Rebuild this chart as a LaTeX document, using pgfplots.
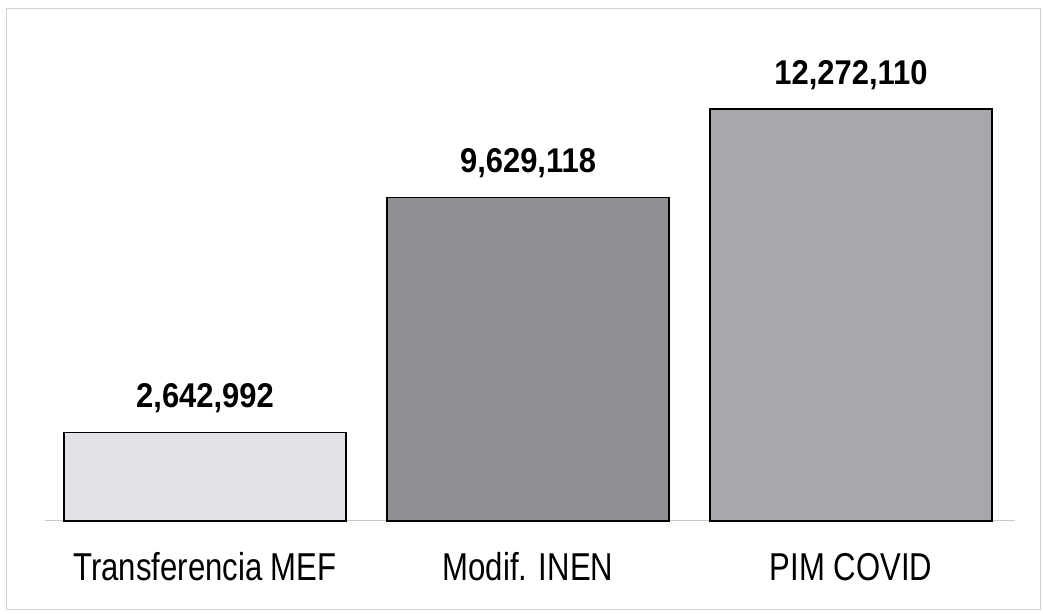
\documentclass[border=0pt]{standalone}
\usepackage{pgfplots}
\pgfplotsset{compat=1.18}
\usepackage{fontspec}
\setmainfont{Liberation Sans}
\newfontfamily\catfam[FakeStretch=0.80]{Liberation Sans}
\newfontfamily\valfam[FakeStretch=0.90]{Liberation Sans}
\definecolor{barA}{HTML}{E1E2E8}
\definecolor{barB}{HTML}{8E8F93}
\definecolor{barC}{HTML}{A7A8AD}
\definecolor{frameC}{HTML}{D0D0D0}
\definecolor{baseC}{HTML}{C8C8C8}
\pgfplotstableread{
x y lab
0 2642992 {2,642,992}
}\tabA
\pgfplotstableread{
x y lab
1 9629118 {9,629,118}
}\tabB
\pgfplotstableread{
x y lab
2 12272110 {12,272,110}
}\tabC
\begin{document}
\begin{tikzpicture}[x=1bp,y=1bp]
\begin{axis}[
  name=ax,
  at={(0,0)}, anchor=south west,
  scale only axis,
  width=970bp, height=482bp,
  xmin=-0.4954, xmax=2.5077,
  ymin=0, ymax=14358000,
  axis y line=none,
  axis x line=bottom,
  x axis line style={-, draw=baseC, line width=1bp},
  xtick={0,1,2},
  xticklabels={Transferencia MEF, Modif. INEN, PIM COVID},
  xtick style={draw=none},
  xticklabel style={anchor=base, yshift=-55bp, font=\fontsize{39}{44}\catfam},
  ytick=\empty,
  ybar, bar width=282bp, bar shift=0pt,
  clip=false,
  nodes near coords,
  point meta=explicit symbolic,
  every node near coord/.append style={anchor=base, yshift=25bp, font=\fontsize{34.5}{38}\valfam\bfseries, text=black, inner sep=0pt},
]
\addplot[fill=barA, draw=black, line width=1.5bp] table[x=x,y=y,meta=lab]{\tabA};
\addplot[fill=barB, draw=black, line width=1.5bp] table[x=x,y=y,meta=lab]{\tabB};
\addplot[fill=barC, draw=black, line width=1.5bp] table[x=x,y=y,meta=lab]{\tabC};
\end{axis}
\draw[frameC, line width=1bp] (-38,-89) rectangle (995,512);
\pgfresetboundingbox
\path (-45,-93) rectangle (998,521);
\end{tikzpicture}
\end{document}
